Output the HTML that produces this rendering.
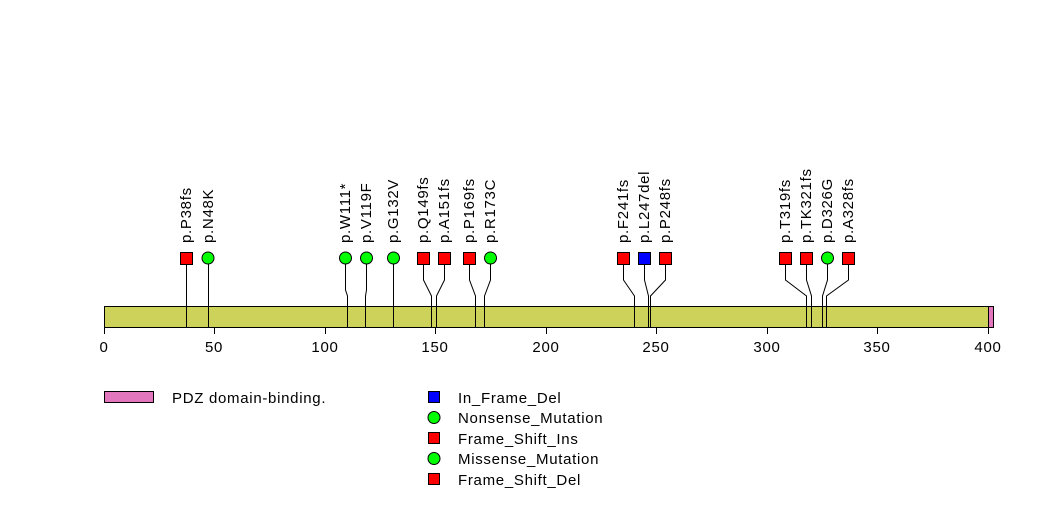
<!DOCTYPE html>
<html><head><meta charset="utf-8"><style>
html,body{margin:0;padding:0;background:#fff}
svg{display:block}
text{font-family:"Liberation Sans",sans-serif;font-size:15px;letter-spacing:0.7px;fill:#000}
</style></head><body>
<svg width="1047" height="524" viewBox="0 0 1047 524">
<g stroke="#000" stroke-width="1" fill="none">
<polyline points="186.5,264 186.5,327"/>
<polyline points="208.5,264 208.5,327"/>
<polyline points="345.5,264 345.5,290 347.5,296 347.5,327"/>
<polyline points="366.5,264 366.5,290 365.5,296 365.5,327"/>
<polyline points="393.5,264 393.5,327"/>
<polyline points="423.5,264 423.5,280 431.5,296 431.5,327"/>
<polyline points="444.5,264 444.5,280 436.5,296 436.5,327"/>
<polyline points="469.5,264 469.5,280 475.5,296 475.5,327"/>
<polyline points="490.5,264 490.5,280 484.5,296 484.5,327"/>
<polyline points="623.5,264 623.5,280 634.5,296 634.5,327"/>
<polyline points="644.5,264 644.5,280 648.5,296 648.5,327"/>
<polyline points="665.5,264 665.5,280 650.5,296 650.5,327"/>
<polyline points="785.5,264 785.5,280 806.5,296 806.5,327"/>
<polyline points="806.5,264 806.5,280 811.5,296 811.5,327"/>
<polyline points="827.5,264 827.5,280 822.5,296 822.5,327"/>
<polyline points="848.5,264 848.5,280 826.5,296 826.5,327"/>
</g>
<rect x="104.5" y="306.5" width="889" height="21" fill="#cdd35a" stroke="#000"/>
<rect x="988.5" y="306.5" width="5" height="21" fill="#e377be" stroke="#000"/>
<g stroke="#000" stroke-width="1" fill="none">
<polyline points="186.5,264 186.5,327"/>
<polyline points="208.5,264 208.5,327"/>
<line x1="347.5" y1="306" x2="347.5" y2="327"/><line x1="365.5" y1="306" x2="365.5" y2="327"/>
<line x1="393.5" y1="306" x2="393.5" y2="327"/><line x1="431.5" y1="306" x2="431.5" y2="327"/>
<line x1="436.5" y1="306" x2="436.5" y2="327"/><line x1="475.5" y1="306" x2="475.5" y2="327"/>
<line x1="484.5" y1="306" x2="484.5" y2="327"/><line x1="634.5" y1="306" x2="634.5" y2="327"/>
<line x1="648.5" y1="306" x2="648.5" y2="327"/><line x1="650.5" y1="306" x2="650.5" y2="327"/>
<line x1="806.5" y1="306" x2="806.5" y2="327"/><line x1="811.5" y1="306" x2="811.5" y2="327"/>
<line x1="822.5" y1="306" x2="822.5" y2="327"/><line x1="826.5" y1="306" x2="826.5" y2="327"/>
<line x1="104.5" y1="327" x2="104.5" y2="334"/><line x1="214.5" y1="327" x2="214.5" y2="334"/>
<line x1="325.5" y1="327" x2="325.5" y2="334"/><line x1="435.5" y1="327" x2="435.5" y2="334"/>
<line x1="546.5" y1="327" x2="546.5" y2="334"/><line x1="656.5" y1="327" x2="656.5" y2="334"/>
<line x1="767.5" y1="327" x2="767.5" y2="334"/><line x1="877.5" y1="327" x2="877.5" y2="334"/>
<line x1="988.5" y1="327" x2="988.5" y2="334"/>
</g>
<g text-anchor="middle">
<text x="104" y="352">0</text><text x="214" y="352">50</text><text x="325" y="352">100</text>
<text x="435" y="352">150</text><text x="546" y="352">200</text><text x="656" y="352">250</text>
<text x="767" y="352">300</text><text x="877" y="352">350</text><text x="988" y="352">400</text>
</g>
<g stroke="#000" stroke-width="1">
<rect x="180.5" y="252.5" width="12" height="12" fill="#f00"/>
<circle cx="208" cy="258" r="6" fill="#0f0"/>
<circle cx="345.5" cy="258" r="6" fill="#0f0"/>
<circle cx="366.5" cy="258" r="6" fill="#0f0"/>
<circle cx="393.5" cy="258" r="6" fill="#0f0"/>
<rect x="417.5" y="252.5" width="12" height="12" fill="#f00"/>
<rect x="438.5" y="252.5" width="12" height="12" fill="#f00"/>
<rect x="463.5" y="252.5" width="12" height="12" fill="#f00"/>
<circle cx="490.5" cy="258" r="6" fill="#0f0"/>
<rect x="617.5" y="252.5" width="12" height="12" fill="#f00"/>
<rect x="638.5" y="252.5" width="12" height="12" fill="#00f"/>
<rect x="659.5" y="252.5" width="12" height="12" fill="#f00"/>
<rect x="779.5" y="252.5" width="12" height="12" fill="#f00"/>
<rect x="800.5" y="252.5" width="12" height="12" fill="#f00"/>
<circle cx="827.5" cy="258" r="6" fill="#0f0"/>
<rect x="842.5" y="252.5" width="12" height="12" fill="#f00"/>
</g>
<g>
<text transform="translate(191,243) rotate(-90)">p.P38fs</text>
<text transform="translate(213,243) rotate(-90)">p.N48K</text>
<text transform="translate(350,243) rotate(-90)">p.W111*</text>
<text transform="translate(371,243) rotate(-90)">p.V119F</text>
<text transform="translate(398,243) rotate(-90)">p.G132V</text>
<text transform="translate(428,243) rotate(-90)">p.Q149fs</text>
<text transform="translate(449,243) rotate(-90)">p.A151fs</text>
<text transform="translate(474,243) rotate(-90)">p.P169fs</text>
<text transform="translate(495,243) rotate(-90)">p.R173C</text>
<text transform="translate(628,243) rotate(-90)">p.F241fs</text>
<text transform="translate(649,243) rotate(-90)">p.L247del</text>
<text transform="translate(670,243) rotate(-90)">p.P248fs</text>
<text transform="translate(790,243) rotate(-90)">p.T319fs</text>
<text transform="translate(811,243) rotate(-90)">p.TK321fs</text>
<text transform="translate(832,243) rotate(-90)">p.D326G</text>
<text transform="translate(853,243) rotate(-90)">p.A328fs</text>
</g>
<rect x="104.5" y="391.5" width="49" height="11" fill="#e377be" stroke="#000"/>
<text x="172" y="403">PDZ domain-binding.</text>
<g stroke="#000">
<rect x="428.5" y="391.5" width="11" height="11" fill="#00f"/>
<circle cx="434" cy="417.5" r="6" fill="#0f0"/>
<rect x="428.5" y="432.5" width="11" height="11" fill="#f00"/>
<circle cx="434" cy="458.5" r="6" fill="#0f0"/>
<rect x="428.5" y="473.5" width="11" height="11" fill="#f00"/>
</g>
<text x="458" y="403">In_Frame_Del</text>
<text x="458" y="423">Nonsense_Mutation</text>
<text x="458" y="444">Frame_Shift_Ins</text>
<text x="458" y="464">Missense_Mutation</text>
<text x="458" y="485">Frame_Shift_Del</text>
</svg>
</body></html>
